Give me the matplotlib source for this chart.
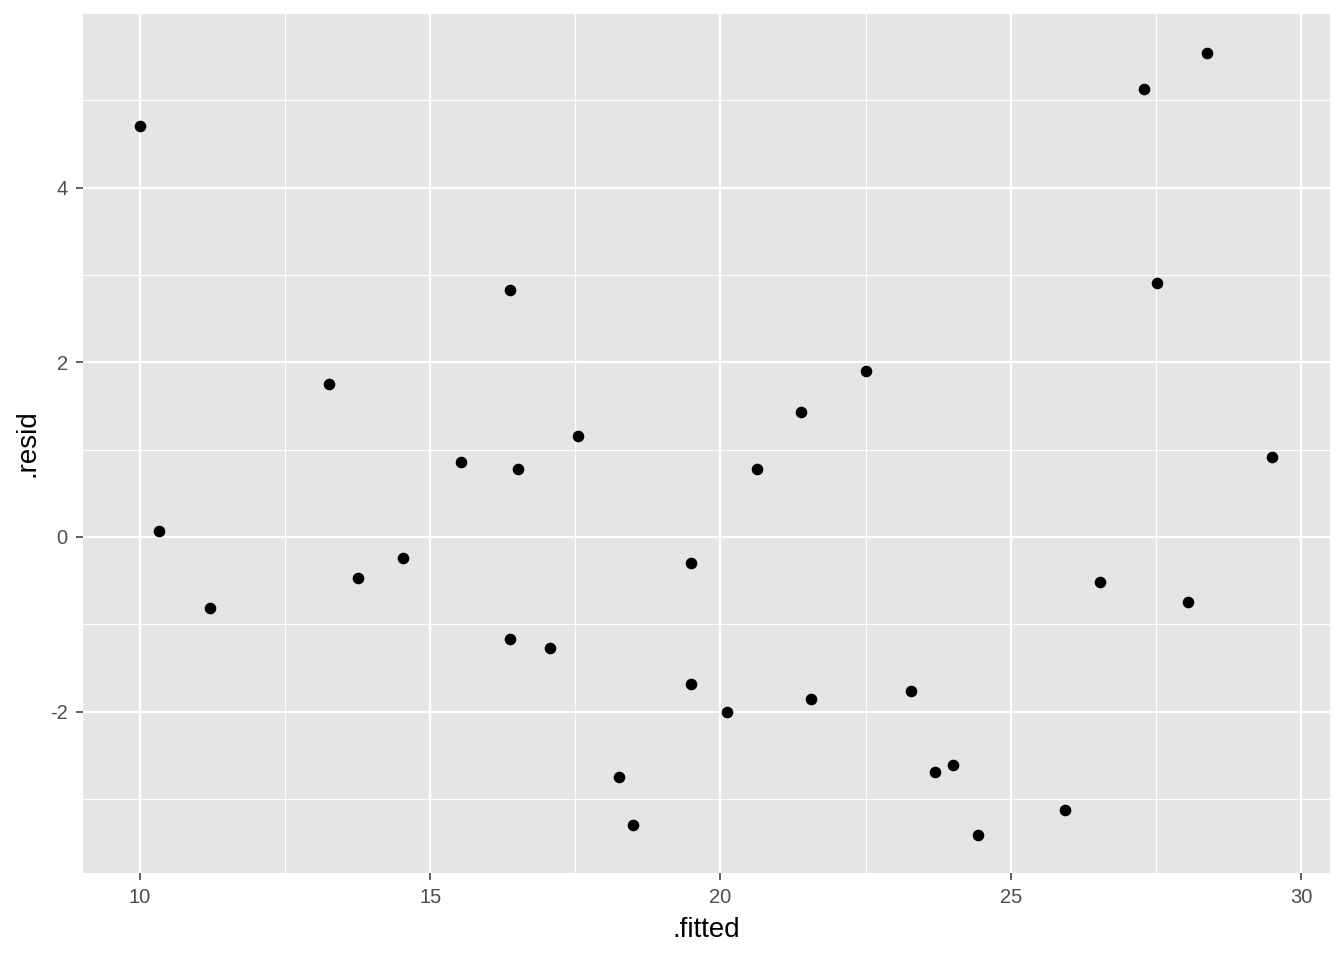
import numpy as np
import matplotlib.pyplot as plt
from matplotlib.ticker import MultipleLocator

# fitted values and residuals
fitted = [10.00, 10.33, 11.21, 13.26, 13.76, 14.53, 15.53, 16.37, 16.37, 16.51,
          17.06, 17.55, 18.25, 18.49, 19.49, 19.49, 20.11, 20.63, 21.38, 21.56,
          22.51, 23.28, 23.69, 24.01, 24.44, 25.94, 26.54, 27.30, 27.52, 28.05,
          28.38, 29.50]
resid = [4.71, 0.07, -0.81, 1.75, -0.47, -0.24, 0.86, 2.83, -1.17, 0.78,
         -1.27, 1.16, -2.75, -3.30, -0.30, -1.69, -2.00, 0.78, 1.43, -1.86,
         1.90, -1.77, -2.69, -2.61, -3.42, -3.13, -0.52, 5.13, 2.91, -0.74,
         5.54, 0.92]

plt.rcParams['font.family'] = ['Liberation Sans', 'DejaVu Sans']
plt.rcParams['axes.unicode_minus'] = False

fig = plt.figure(figsize=(13.44, 9.6), dpi=100)
ax = fig.add_axes([0.0618, 0.0906, 0.9278, 0.8948])
ax.set_facecolor('#e5e5e5')

ax.scatter(fitted, resid, s=70, color='black', zorder=3, linewidths=0)

ax.set_xlim(9.02, 30.50)
ax.set_ylim(-3.85, 5.99)

ax.xaxis.set_major_locator(MultipleLocator(5))
ax.xaxis.set_minor_locator(MultipleLocator(2.5))
ax.yaxis.set_major_locator(MultipleLocator(2))
ax.yaxis.set_minor_locator(MultipleLocator(1))

ax.grid(which='major', color='white', linewidth=1.6, zorder=0)
ax.grid(which='minor', color='white', linewidth=0.8, zorder=0)
ax.set_axisbelow(True)

for s in ax.spines.values():
    s.set_visible(False)

ax.tick_params(which='major', length=5, width=1.1, color='#333333',
               labelcolor='#4d4d4d', labelsize=14.5, pad=6)
ax.tick_params(which='minor', length=0)

ax.set_xlabel('.fitted', fontsize=20, color='black', labelpad=7)
ax.set_ylabel('.resid', fontsize=20, color='black', labelpad=7)

fig.savefig('out.png', dpi=100, facecolor='white')
